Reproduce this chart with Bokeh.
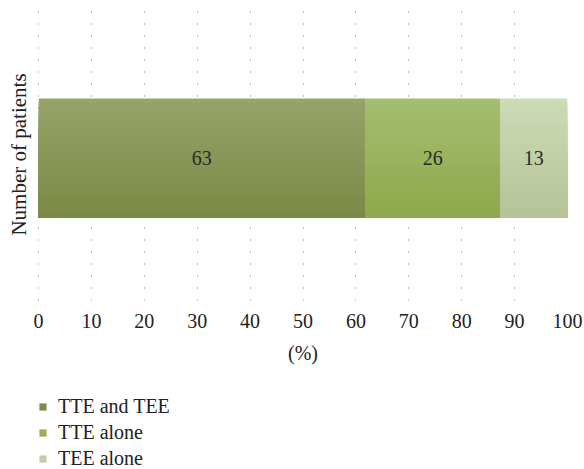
from bokeh.plotting import figure
from bokeh.layouts import column
from bokeh.models import Range1d, Legend, LegendItem, FixedTicker, ColumnDataSource
from bokeh.core.properties import value
from bokeh.embed import file_html
from bokeh.resources import INLINE

categories = ["TTE and TEE", "TTE alone", "TEE alone"]
counts = [63, 26, 13]
x_ticks = [0, 10, 20, 30, 40, 50, 60, 70, 80, 90, 100]
top_colors = ["#96a46b", "#a4be72", "#cddbb6"]
bottom_colors = ["#7a8944", "#8ea84b", "#b6c398"]
legend_colors = ["#7f8d4b", "#96b255", "#c2d0a8"]

FONT = "Liberation Serif"
TXT = "#222222"

total = sum(counts)
pct = [c / total * 100 for c in counts]
lefts, rights = [], []
acc = 0.0
for v in pct:
    lefts.append(acc)
    acc += v
    rights.append(acc)

p = figure(width=584, height=370, output_backend="svg", toolbar_location=None,
           x_range=Range1d(0, 100), y_range=Range1d(0, 1.025),
           min_border_left=38, min_border_right=17, min_border_top=8, min_border_bottom=70)
p.outline_line_color = None

bar_y = 0.5
bar_h = 0.418

def mix(c1, c2, t):
    a = [int(c1[i:i + 2], 16) for i in (1, 3, 5)]
    b = [int(c2[i:i + 2], 16) for i in (1, 3, 5)]
    return "#%02x%02x%02x" % tuple(round(a[k] + (b[k] - a[k]) * t) for k in range(3))

# gradient bands (style only): each band runs from its top down to the bar bottom
n = 30
bar_bottom = bar_y - bar_h / 2
for i, (l, r) in enumerate(zip(lefts, rights)):
    for k in range(n):
        t = (k + 0.5) / n
        band_top = bar_y + bar_h / 2 - bar_h * k / n
        p.quad(left=l, right=r, top=band_top, bottom=bar_bottom,
               color=mix(top_colors[i], bottom_colors[i], t), line_color=None)

# labels
src = ColumnDataSource(dict(x=[(l + r) / 2 for l, r in zip(lefts, rights)],
                            y=[bar_y] * 3, t=[str(c) for c in counts]))
p.text(x="x", y="y", text="t", source=src, text_align="center", text_baseline="middle",
       text_font=value(FONT), text_font_size="20px", text_color="#2a2a2a")

# axes
p.xaxis.ticker = FixedTicker(ticks=x_ticks)
p.xaxis.axis_line_color = None
p.xaxis.major_tick_line_color = None
p.xaxis.minor_tick_line_color = None
p.xaxis.major_tick_out = 0
p.xaxis.major_label_text_font = FONT
p.xaxis.major_label_text_font_size = "20px"
p.xaxis.major_label_text_color = TXT
p.xaxis.major_label_standoff = 13
p.xaxis.axis_label = "(%)"
p.xaxis.axis_label_text_font = FONT
p.xaxis.axis_label_text_font_style = "normal"
p.xaxis.axis_label_text_font_size = "20px"
p.xaxis.axis_label_text_color = TXT
p.xaxis.axis_label_standoff = 11

p.yaxis.ticker = FixedTicker(ticks=[])
p.yaxis.major_label_text_font_size = "0px"
p.yaxis.axis_line_color = "#888888"
p.yaxis.axis_line_dash = "1 11"
p.yaxis.major_tick_line_color = None
p.yaxis.minor_tick_line_color = None
p.yaxis.major_tick_out = 0
p.yaxis.axis_label = "Number of patients"
p.yaxis.axis_label_text_font = FONT
p.yaxis.axis_label_text_font_style = "normal"
p.yaxis.axis_label_text_font_size = "21px"
p.yaxis.axis_label_text_color = TXT
p.yaxis.axis_label_standoff = 8

p.xgrid.ticker = FixedTicker(ticks=x_ticks[1:])
p.xgrid.grid_line_color = "#777777"
p.xgrid.grid_line_dash = "1 11"
p.ygrid.grid_line_color = None

# legend figure
lg = figure(width=584, height=99, output_backend="svg", toolbar_location=None,
            x_range=Range1d(0, 1), y_range=Range1d(0, 1),
            min_border_left=0, min_border_right=0, min_border_top=0, min_border_bottom=0)
lg.axis.visible = False
lg.grid.visible = False
lg.outline_line_color = None
items = []
for name, col in zip(categories, legend_colors):
    r = lg.quad(left=[-10], right=[-9], top=[-9], bottom=[-10], color=col, line_color=None)
    items.append(LegendItem(label=name, renderers=[r]))
legend = Legend(items=items, orientation="vertical", location=(0, -1),
                label_text_font=FONT, label_text_font_size="20px", label_text_color=TXT,
                glyph_width=9, glyph_height=9, label_height=20, spacing=3,
                padding=0, margin=0, border_line_color=None, background_fill_alpha=0,
                label_standoff=11)
lg.add_layout(legend, "center")

open("out.html", "w").write(file_html(column(p, lg), INLINE))
